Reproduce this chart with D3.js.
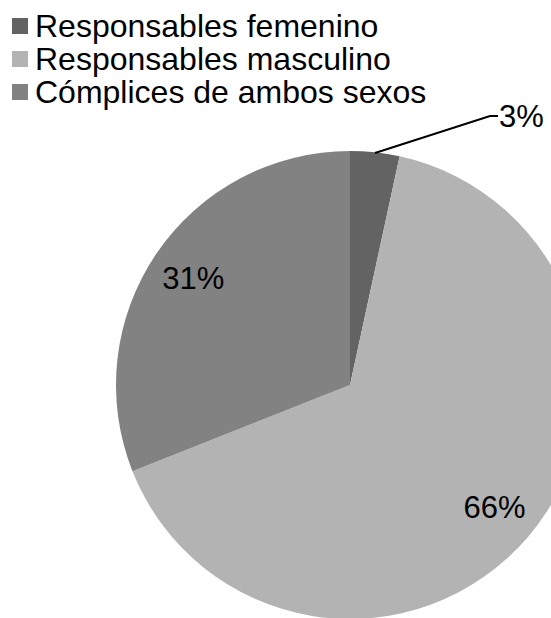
<!DOCTYPE html>
<html><head><meta charset="utf-8">
<script src="https://cdn.jsdelivr.net/npm/d3@7"></script>
<style>body{margin:0;background:#fff}svg{display:block}</style>
</head><body>
<script>
const categories = ["Responsables femenino", "Responsables masculino", "Cómplices de ambos sexos"];
const values = [3.4, 65.6, 31.0];
const labels = ["3%", "66%", "31%"];
const colors = ["#636363", "#b3b3b3", "#828282"];

const W = 551, H = 618;
const svg = d3.select("body").append("svg").attr("width", W).attr("height", H);
const font = "'Liberation Sans', Arial, sans-serif";
const cx = 350, cy = 385, r = 234;

const data = categories.map((c, i) => ({c, v: values[i], l: labels[i], col: colors[i]}));
const pie = d3.pie().value(d => d.v).sort(null);
const arcs = pie(data);
const arc = d3.arc().innerRadius(0).outerRadius(r);
const g = svg.append("g").attr("transform", `translate(${cx},${cy})`);
g.selectAll("path").data(arcs).join("path").attr("d", arc).attr("fill", d => d.data.col);

// labels
const labelArc = d3.arc().innerRadius(r * 0.81).outerRadius(r * 0.81);
arcs.forEach((a, i) => {
  if (i === 0) {
    const p0 = [375 - cx, 153 - cy];
    const p1 = [490 - cx, 116 - cy];
    const p2 = [498 - cx, 116 - cy];
    g.append("path").attr("d", d3.line()([p0, p1, p2])).attr("fill", "none").attr("stroke", "#000").attr("stroke-width", 2);
    g.append("text").attr("x", p2[0] + 1).attr("y", p2[1]).attr("dy", "0.35em")
      .attr("font-family", font).attr("font-size", 31).text(a.data.l);
  } else {
    const c = labelArc.centroid(a);
    g.append("text").attr("x", c[0]).attr("y", c[1]).attr("dy", "0.35em").attr("text-anchor", "middle")
      .attr("font-family", font).attr("font-size", 31).text(a.data.l);
  }
});

// legend
const leg = svg.append("g");
data.forEach((d, i) => {
  const y = 37 + i * 33;
  leg.append("rect").attr("x", 12).attr("y", y - 19).attr("width", 16).attr("height", 16).attr("fill", d.col);
  leg.append("text").attr("x", 35).attr("y", y).attr("font-family", font).attr("font-size", 32).text(d.c);
});
</script>
</body></html>
